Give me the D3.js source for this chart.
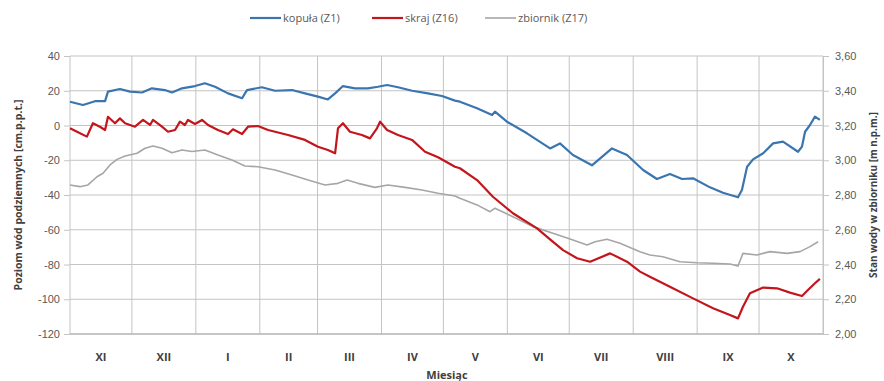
<!DOCTYPE html>
<html>
<head>
<meta charset="utf-8">
<script src="https://cdn.jsdelivr.net/npm/d3@7"></script>
<style>
  body { margin: 0; background: #fff; }
  svg { display: block; font-family: "Open Sans", "Liberation Sans", sans-serif; }
</style>
</head>
<body>
<svg id="chart" width="884" height="381"></svg>
<script>
// Months shown on the x axis (Nov -> Oct)
const months = ['XI', 'XII', 'I', 'II', 'III', 'IV', 'V', 'VI', 'VII', 'VIII', 'IX', 'X'];
const leftTicks = [-120, -100, -80, -60, -40, -20, 0, 20, 40];
const rightTicks = [2.0, 2.2, 2.4, 2.6, 2.8, 3.0, 3.2, 3.4, 3.6];

// [days since 1 Nov, level cm p.p.t.]
const kopula = [
  [0, 13.7], [6.3, 11.8], [12.1, 14], [17, 14], [18.4, 19.5], [24.2, 21], [29.1, 19.5],
  [34.9, 19], [39.7, 21.4], [46, 20.4], [49.4, 19], [54.3, 21.4], [60.6, 22.7], [65.4, 24.3],
  [70.3, 22.3], [76.6, 18.5], [83.4, 15.7], [85.8, 20.4], [93, 22], [99.4, 20], [107.6, 20.4],
  [113.9, 18.5], [120.2, 16.6], [125, 15], [128.5, 18.5], [132.3, 22.7], [138.1, 21.4],
  [144.4, 21.4], [149.3, 22.3], [153.7, 23.3], [159, 22], [165.8, 20], [173.5, 18.5],
  [180.3, 17], [186.6, 14.3], [189, 13.7], [197.3, 9.9], [204.6, 6], [206, 8], [211.8, 2.2],
  [221.5, -4.5], [232.7, -13.2], [237.5, -10.3], [243.8, -17], [253, -22.9], [262.7, -13.2],
  [270, -17], [277.8, -25.6], [284.5, -30.8], [290.8, -27.9], [296.7, -30.8], [302, -30.4],
  [310.2, -35.6], [316.5, -38.7], [323.8, -41.3], [325.7, -37.1], [328.2, -23.7], [331.1, -19.5],
  [336, -16], [340.8, -10.3], [345.6, -9.3], [352.9, -15.1], [354.8, -12.2], [356.3, -3.6],
  [358.7, 0.3], [361.1, 5.1], [363.5, 3.2]
];

const skraj = [
  [0, -1.6], [3.4, -3.6], [8.2, -6.4], [11.1, 1.3], [14.5, -0.7], [17, -2.6], [18.4, 5],
  [21.8, 1.3], [24.2, 4.1], [26.7, 1.3], [31.5, -0.7], [35.4, 3.2], [38.8, 0.3], [40.2, 3.2],
  [44.6, -0.7], [47.5, -3.6], [50.9, -2.6], [53.3, 2.2], [55.7, 0.3], [57.2, 3.2], [60.6, 0.9],
  [64, 3.2], [66.9, 0.3], [71.7, -2.6], [76.6, -4.9], [79, -2.2], [83.4, -4.9], [86.3, -0.7],
  [91.1, -0.3], [96, -2.6], [105.7, -5.5], [113.9, -8.3], [120.2, -12.2], [125, -14.1],
  [128.5, -16], [129.9, -1.6], [132.3, 1.3], [135.7, -3.6], [141.5, -5.5], [145.4, -7.4],
  [148.8, -1.6], [150.3, 2.2], [153.7, -2.6], [159, -5.5], [165.8, -8.3], [172.1, -15.1],
  [178.4, -18.3], [186.6, -23.7], [189, -24.6], [197.3, -31.4], [205, -41], [214.7, -50.5],
  [226.4, -59.2], [232.7, -65.5], [239, -71.7], [245.8, -76.4], [252.1, -78.4], [261.8, -73.6],
  [270, -78.4], [276.3, -84.1], [281.1, -87], [290.8, -92.8], [302, -99.5], [311.7, -105.2],
  [319.9, -109.1], [323.8, -111], [326.2, -104.3], [329.6, -96.6], [336, -93.3], [342.7, -93.7],
  [349, -96.2], [354.8, -98.1], [357.7, -94.7], [361.1, -90.8], [363.5, -88.3]
];

// [days since 1 Nov, reservoir level m n.p.m.]
const zbiornik = [
  [0, 2.858], [4.8, 2.848], [8.7, 2.858], [13.1, 2.905], [16, 2.925], [19.4, 2.973],
  [22.8, 3.005], [26.7, 3.024], [32.5, 3.04], [36.4, 3.069], [40.2, 3.082], [44.6, 3.069],
  [49.4, 3.043], [54.3, 3.059], [59.1, 3.05], [65.4, 3.059], [71.7, 3.03], [78.5, 3.001],
  [84.8, 2.967], [91.1, 2.963], [99.4, 2.944], [107.6, 2.915], [115.4, 2.886], [123.6, 2.858],
  [129.9, 2.867], [134.3, 2.886], [139.6, 2.867], [147.8, 2.844], [154.1, 2.858], [162.4, 2.844],
  [170.6, 2.829], [178.4, 2.81], [186.6, 2.794], [189, 2.781], [197.3, 2.743], [203.6, 2.704],
  [206, 2.724], [214.7, 2.675], [224.4, 2.618], [234.1, 2.58], [243.8, 2.541], [250.6, 2.512],
  [254.5, 2.531], [260.3, 2.545], [266.6, 2.522], [276.3, 2.474], [281.1, 2.455], [287.4, 2.445],
  [295.7, 2.416], [303.9, 2.41], [311.7, 2.407], [319.9, 2.403], [323.8, 2.391], [326.2, 2.464],
  [333, 2.455], [339.3, 2.474], [347.6, 2.464], [353.9, 2.474], [358.7, 2.503], [362.6, 2.531]
];

const svg = d3.select('#chart');
const margin = { top: 56, right: 61, bottom: 47, left: 70 };
const width = 884, height = 381;

const start = new Date(Date.UTC(2014, 10, 1));
const end = new Date(Date.UTC(2015, 10, 1));
const dayMs = 864e5;
const toDate = d => new Date(start.getTime() + d * dayMs);

const x = d3.scaleUtc().domain([start, end]).range([margin.left, width - margin.right]);
const y = d3.scaleLinear().domain([-120, 40]).range([height - margin.bottom, margin.top]);
const y2 = d3.scaleLinear().domain([2, 3.6]).range([height - margin.bottom, margin.top]);

const gridColor = '#c4c4c4';
const textColor = '#595959';

// horizontal grid
svg.append('g')
  .selectAll('line')
  .data(leftTicks)
  .join('line')
  .attr('x1', margin.left).attr('x2', width - margin.right)
  .attr('y1', d => y(d)).attr('y2', d => y(d))
  .attr('stroke', gridColor).attr('stroke-width', 1);

// vertical grid at month boundaries
const bounds = d3.utcMonth.range(start, d3.utcDay.offset(end, 1));
svg.append('g')
  .selectAll('line')
  .data(bounds)
  .join('line')
  .attr('x1', d => x(d)).attr('x2', d => x(d))
  .attr('y1', margin.top).attr('y2', height - margin.bottom)
  .attr('stroke', gridColor).attr('stroke-width', 1);

// left axis
const leftAxis = svg.append('g')
  .attr('transform', `translate(${margin.left},0)`)
  .call(d3.axisLeft(y).tickValues(leftTicks).tickSize(6).tickPadding(4).tickFormat(d => String(d)));
leftAxis.select('.domain').remove();

// right axis
const rightAxis = svg.append('g')
  .attr('transform', `translate(${width - margin.right},0)`)
  .call(d3.axisRight(y2).tickValues(rightTicks).tickSize(6).tickPadding(6)
    .tickFormat(d => d.toFixed(2).replace('.', ',')));
rightAxis.select('.domain').attr('stroke', gridColor);

[leftAxis, rightAxis].forEach(g => {
  g.selectAll('.tick line').attr('stroke', gridColor);
  g.selectAll('.tick text').attr('fill', textColor).style('font-size', '11px');
});

// bottom line
svg.append('line')
  .attr('x1', margin.left).attr('x2', width - margin.right)
  .attr('y1', y(-120)).attr('y2', y(-120))
  .attr('stroke', '#aaaaaa');

// month labels
svg.append('g')
  .selectAll('text')
  .data(months)
  .join('text')
  .attr('x', (d, i) => (x(bounds[i]) + x(bounds[i + 1])) / 2)
  .attr('y', 361)
  .attr('text-anchor', 'middle')
  .attr('fill', '#404040')
  .style('font-size', '11px')
  .style('font-weight', 'bold')
  .text(d => d);

svg.append('text')
  .attr('x', 447).attr('y', 379)
  .attr('text-anchor', 'middle')
  .attr('fill', '#404040')
  .style('font-size', '11px').style('font-weight', 'bold')
  .text('Miesiąc');

svg.append('text')
  .attr('transform', `translate(22,${(margin.top + height - margin.bottom) / 2}) rotate(-90)`)
  .attr('text-anchor', 'middle')
  .attr('fill', '#404040')
  .style('font-size', '10.5px').style('font-weight', 'bold')
  .text('Poziom wód podziemnych [cm.p.p.t.]');

svg.append('text')
  .attr('transform', `translate(877,${(margin.top + height - margin.bottom) / 2}) rotate(-90)`)
  .attr('text-anchor', 'middle')
  .attr('fill', '#404040')
  .style('font-size', '10px').style('font-weight', 'bold')
  .text('Stan wody w zbiorniku [m n.p.m.]');

// series
const lineLeft = d3.line().x(d => x(toDate(d[0]))).y(d => y(d[1]));
const lineRight = d3.line().x(d => x(toDate(d[0]))).y(d => y2(d[1]));

const series = [
  { name: 'kopuła (Z1)', data: kopula, line: lineLeft, color: '#3a75b0', w: 2.2 },
  { name: 'skraj (Z16)', data: skraj, line: lineLeft, color: '#c3161c', w: 2.2 },
  { name: 'zbiornik (Z17)', data: zbiornik, line: lineRight, color: '#a6a6a6', w: 1.6 }
];

svg.append('g')
  .selectAll('path')
  .data(series.slice().reverse())
  .join('path')
  .attr('fill', 'none')
  .attr('stroke', d => d.color)
  .attr('stroke-width', d => d.w)
  .attr('stroke-linejoin', 'round')
  .attr('d', d => d.line(d.data));

// legend
const legendX = [250, 372, 485];
const legend = svg.append('g')
  .selectAll('g')
  .data(series)
  .join('g')
  .attr('transform', (d, i) => `translate(${legendX[i]},18)`);
legend.append('line')
  .attr('x1', 0).attr('x2', 31)
  .attr('stroke', d => d.color)
  .attr('stroke-width', d => d.w);
legend.append('text')
  .attr('x', 33).attr('y', 4)
  .attr('fill', textColor)
  .style('font-size', '11px')
  .text(d => d.name);
</script>
</body>
</html>
